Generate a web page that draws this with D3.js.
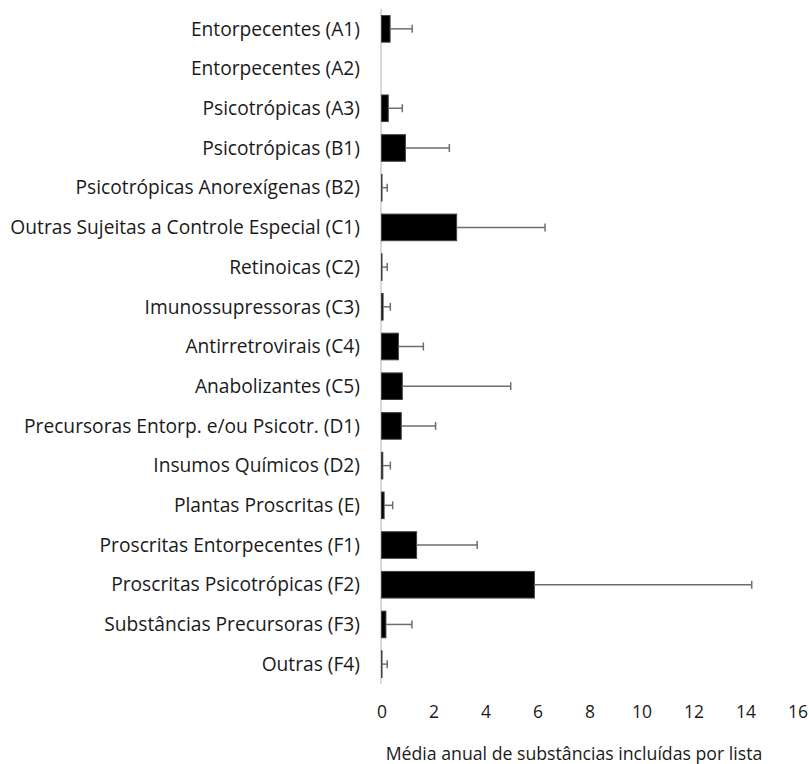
<!DOCTYPE html>
<html><head><meta charset="utf-8">
<script src="https://cdn.jsdelivr.net/npm/d3@7"></script>
<style>body{margin:0;background:#fff}svg{display:block}text{font-family:"Open Sans",sans-serif;fill:#1a1a1a}</style>
</head><body><div id="chart"></div>
<script>
const categories = ["Entorpecentes (A1)","Entorpecentes (A2)","Psicotrópicas (A3)","Psicotrópicas (B1)","Psicotrópicas Anorexígenas (B2)","Outras Sujeitas a Controle Especial (C1)","Retinoicas (C2)","Imunossupressoras (C3)","Antirretrovirais (C4)","Anabolizantes (C5)","Precursoras Entorp. e/ou Psicotr. (D1)","Insumos Químicos (D2)","Plantas Proscritas (E)","Proscritas Entorpecentes (F1)","Proscritas Psicotrópicas (F2)","Substâncias Precursoras (F3)","Outras (F4)"];
const means = [0.33,0,0.26,0.92,0.02,2.89,0.02,0.06,0.65,0.80,0.76,0.05,0.10,1.35,5.88,0.17,0.02];
const upper = [1.18,0,0.80,2.61,0.22,6.29,0.22,0.34,1.61,4.97,2.08,0.34,0.43,3.68,14.24,1.17,0.22];
const xTicks = [0,2,4,6,8,10,12,14,16];
const xTitle = "Média anual de substâncias incluídas por lista";

const W=809,H=764;
const svg=d3.select("#chart").append("svg").attr("width",W).attr("height",H);
const x=d3.scaleLinear().domain([0,16]).range([381.5,797.5]);
const y=d3.scaleBand().domain(categories).range([9,684]).paddingInner(0.33).paddingOuter(0.165);

// axis line
svg.append("line").attr("x1",381).attr("x2",381).attr("y1",9).attr("y2",684).attr("stroke","#d9d9d9").attr("stroke-width",2);

// bars
svg.append("g").selectAll("rect").data(categories).join("rect")
  .filter((d,i)=>means[i]>0)
  .attr("x",x(0)).attr("y",d=>y(d))
  .attr("width",d=>Math.max(0.5,x(means[categories.indexOf(d)])-x(0)))
  .attr("height",y.bandwidth())
  .attr("fill","#000").attr("stroke","#404040").attr("stroke-width",1);

// error bars
const eg=svg.append("g").attr("stroke","#6e6e6e").attr("stroke-width",1.5);
categories.forEach((c,i)=>{
  if(upper[i]<=0) return;
  const cy=y(c)+y.bandwidth()/2;
  eg.append("line").attr("x1",x(means[i])).attr("x2",x(upper[i])).attr("y1",cy).attr("y2",cy);
  eg.append("line").attr("x1",x(upper[i])).attr("x2",x(upper[i])).attr("y1",cy-4).attr("y2",cy+4);
});

// y labels
svg.append("g").selectAll("text").data(categories).join("text")
  .attr("x",360).attr("y",d=>y(d)+y.bandwidth()/2).attr("dy","0.35em")
  .attr("text-anchor","end").attr("font-size",19.2).text(d=>d);

// x tick labels
const xa=d3.axisBottom(x).tickValues(xTicks).tickSize(0).tickPadding(0).tickFormat(d3.format("d"));
const gx=svg.append("g").attr("transform","translate(0,700)").call(xa);
gx.select(".domain").remove();
gx.selectAll("text").attr("font-size",17.5).attr("font-family","Open Sans").attr("fill","#1a1a1a").attr("dy","1em");

svg.append("text").attr("x",574).attr("y",760).attr("text-anchor","middle").attr("font-size",17.7).text(xTitle);
</script></body></html>
